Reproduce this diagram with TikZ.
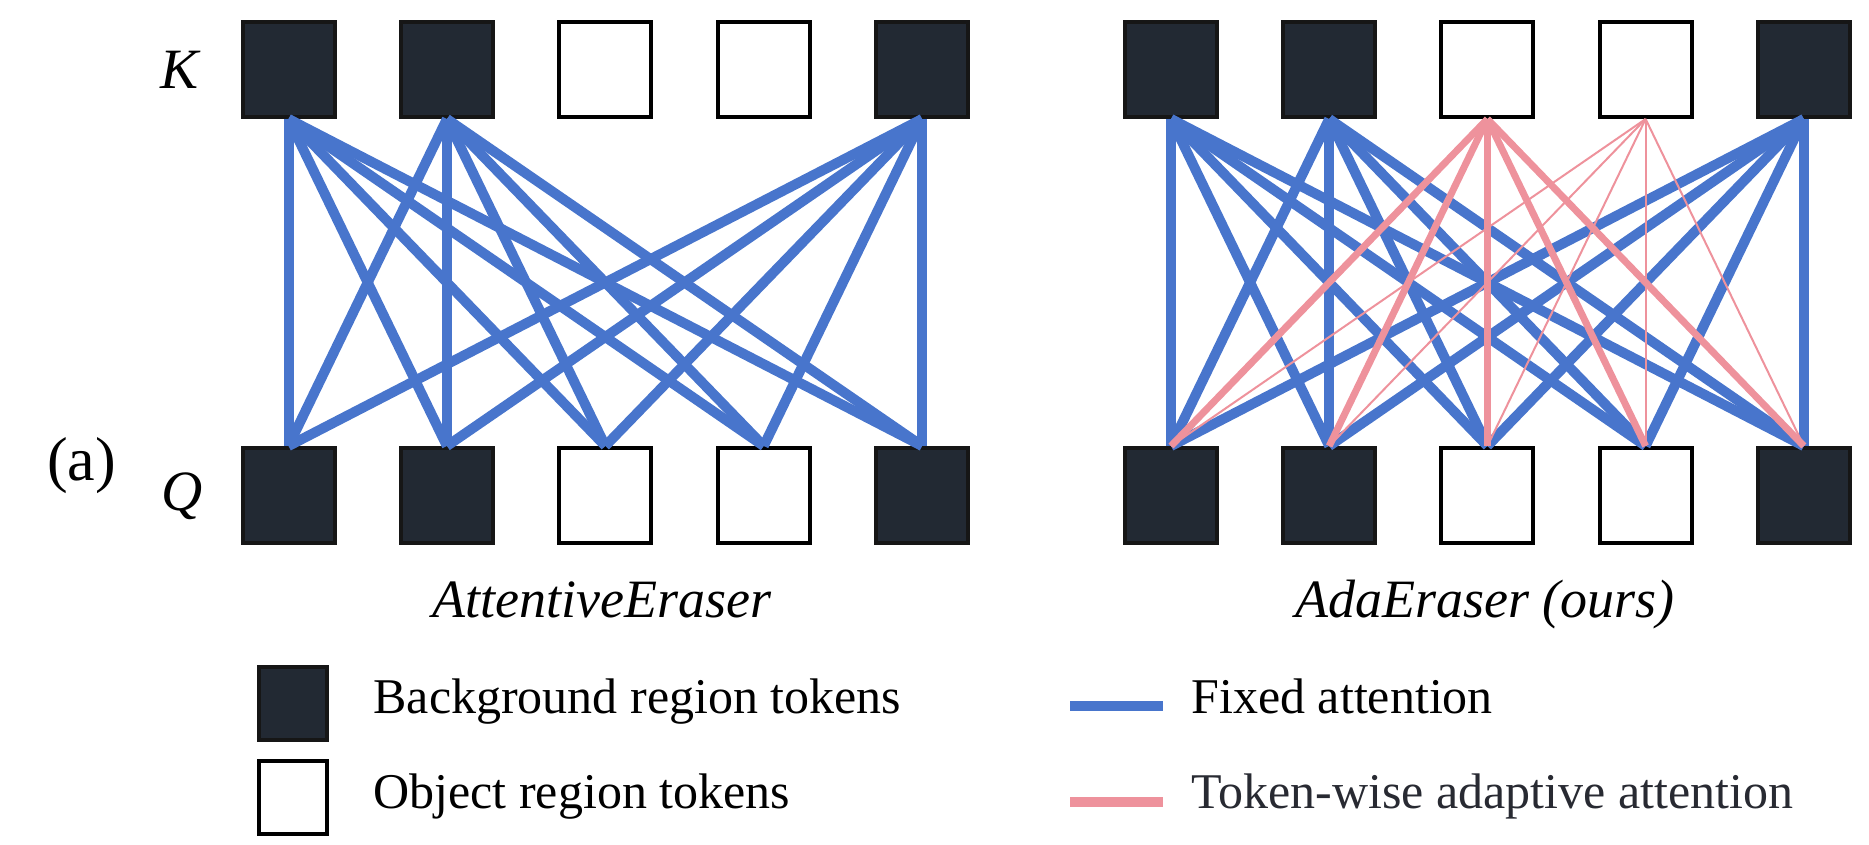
\documentclass[tikz,border=0pt]{standalone}
\usepackage{fontspec}
\setmainfont{Liberation Serif}
\usetikzlibrary{positioning}

\definecolor{fixblue}{RGB}{72,117,204}
\definecolor{adapink}{RGB}{238,146,156}
\definecolor{bgfill}{RGB}{34,41,51}
\definecolor{bgedge}{RGB}{22,22,22}
\definecolor{softblack}{RGB}{40,42,50}

\begin{document}
\begin{tikzpicture}[x=1pt, y=-1pt,
    token/.style={line width=4pt, minimum width=92pt, minimum height=95pt, inner sep=0pt},
    bgtok/.style={token, draw=bgedge, fill=bgfill},
    objtok/.style={token, draw=black, fill=white},
    fixed/.style={fixblue, line width=10pt},
    adapt/.style={adapink, line width=7pt},
    adaptthin/.style={adapink, line width=2pt},
    axis/.style={font=\fontsize{57}{60}\selectfont\itshape, anchor=base},
    title/.style={font=\fontsize{54}{60}\selectfont\itshape, anchor=base},
    legend/.style={font=\fontsize{50}{60}\selectfont, anchor=base west}]

    \useasboundingbox (0,0) rectangle (1869,845);

    % tokens, K on top and Q below
    \foreach \i/\kind in {1/bgtok,2/bgtok,3/objtok,4/objtok,5/bgtok} {
        \node[\kind] (lk\i) at ({288.5+158.4*(\i-1)}, 69.5) {};
        \node[\kind] (lq\i) at ({288.5+158.4*(\i-1)}, 495.5) {};
        \node[\kind] (rk\i) at ({1171+158.2*(\i-1)}, 69.5) {};
        \node[\kind] (rq\i) at ({1171+158.2*(\i-1)}, 495.5) {};
    }

    % fixed attention from background keys
    \foreach \k in {1,2,5} {
        \foreach \q in {1,...,5} {
            \draw[fixed] (lk\k.south) -- (lq\q.north);
            \draw[fixed] (rk\k.south) -- (rq\q.north);
        }
    }

    % adaptive attention from object keys
    \foreach \q in {1,...,5} {
        \draw[adapt] (rk3.south) -- (rq\q.north);
        \draw[adaptthin] (rk4.south) -- (rq\q.north);
    }

    \node[axis] (keys) at (180, 89) {K};
    \node[axis] (queries) at (182, 510) {Q};
    \node[font=\fontsize{62}{66}\selectfont, anchor=base] (panel) at (81.5, 480) {(a)};

    \node[title] (attentive) at (602, 617) {AttentiveEraser};
    \node[title] (ada) at (1485, 617) {AdaEraser (ours)};

    % legend
    \node[bgtok, minimum width=68pt, minimum height=73pt] (bgkey) at (293, 703) {};
    \node[objtok, minimum width=68pt, minimum height=73pt] (objkey) at (293, 797) {};
    \node[legend] (bgtext) at (370, 713) {Background region tokens};
    \node[legend] (objtext) at (370, 808) {Object region tokens};

    \coordinate (fixa) at (1070, 706);
    \coordinate (fixb) at (1163, 706);
    \coordinate (adaa) at (1070, 802);
    \coordinate (adab) at (1163, 802);
    \draw[fixed] (fixa) -- (fixb);
    \draw[adapink, line width=10pt] (adaa) -- (adab);
    \node[legend] (fixtext) at (1188, 713) {Fixed attention};
    \node[legend, text=softblack] (adatext) at (1188, 808) {Token-wise adaptive attention};

\end{tikzpicture}
\end{document}
